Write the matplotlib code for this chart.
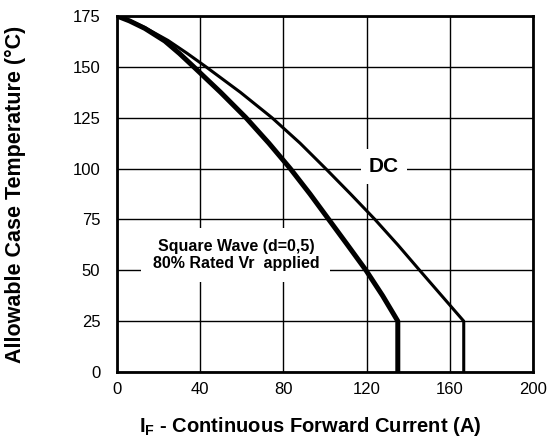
import matplotlib
matplotlib.use("Agg")
import matplotlib.pyplot as plt

plt.rcParams["font.family"] = ["Liberation Sans", "DejaVu Sans"]
plt.rcParams["mathtext.fontset"] = "custom"
plt.rcParams["mathtext.rm"] = "Liberation Sans"
plt.rcParams["mathtext.bf"] = "Liberation Sans:bold"

# DC curve (thin)
dc_current = [0, 6, 13.4, 24.5, 33.5, 42.8, 59.3, 74.5, 88, 100.3, 112.3, 124, 135, 145.5, 156.1, 166.7, 166.7]
dc_temp = [175, 172.8, 169.3, 163, 156.8, 150, 137.5, 125, 112.5, 100, 87.5, 75, 62.5, 50, 37.5, 25, 0]
# Square wave d=0.5 curve (thick)
sq_current = [0, 6, 13.4, 23, 30, 36.9, 49.8, 62, 73, 83.3, 92.8, 101.8, 110.8, 119.7, 127.7, 135, 135]
sq_temp = [175, 172.6, 168.9, 162.7, 156.6, 150, 137.5, 125, 112.5, 100, 87.5, 75, 62.5, 50, 37.5, 25, 0]

x_ticks = [0, 40, 80, 120, 160, 200]
y_ticks = [0, 25, 50, 75, 100, 125, 150, 175]

fig = plt.figure(figsize=(5.49, 4.48), dpi=100)
ax = fig.add_axes([117 / 549, 1 - 372 / 448, 416 / 549, 356 / 448])

ax.plot(dc_current, dc_temp, color="black", lw=2.2, solid_joinstyle="round")
ax.plot(sq_current, sq_temp, color="black", lw=3.6, solid_joinstyle="round")

ax.set_xlim(0, 200)
ax.set_ylim(0, 175)
ax.set_xticks(x_ticks)
ax.set_yticks(y_ticks)
ax.grid(True, color="black", lw=1.0)
ax.set_axisbelow(True)
ax.tick_params(length=0, labelsize=12)
ax.tick_params(axis="x", pad=7)
ax.tick_params(axis="y", pad=12)
for s in ax.spines.values():
    s.set_linewidth(2)

ax.text(128.4, 101, "DC", fontsize=15, fontweight="bold", ha="center", va="center",
        bbox=dict(facecolor="white", edgecolor="none", pad=6))
ax.text(57.2, 57.5, "Square Wave (d=0,5)\n80% Rated Vr  applied", fontsize=11.5,
        fontweight="bold", ha="center", va="center", linespacing=1.15,
        bbox=dict(facecolor="white", edgecolor="none", pad=8))

fig.text(310 / 549, 1 - 432 / 448, r"I$_\mathbf{F}$ - Continuous Forward Current (A)",
         fontsize=14.5, fontweight="bold", ha="center", va="baseline")
fig.text(15 / 549, 1 - 194 / 448, "Allowable Case Temperature (°C)", fontsize=15.5,
         fontweight="bold", ha="center", va="center", rotation=90)

fig.savefig("out.png", dpi=100)
